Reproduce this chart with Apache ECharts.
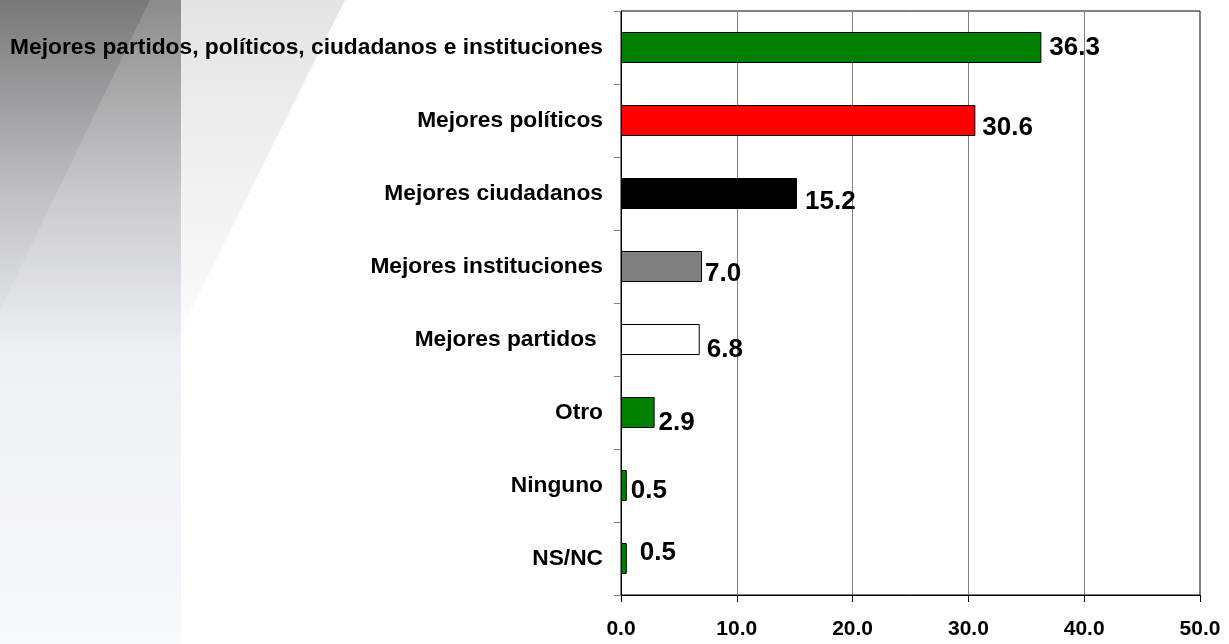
<!DOCTYPE html>
<html>
<head>
<meta charset="utf-8">
<script src="https://cdn.jsdelivr.net/npm/echarts@6/dist/echarts.min.js"></script>
<style>
  html, body { margin: 0; padding: 0; background: #fff; }
  #main { width: 1229px; height: 644px; }
</style>
</head>
<body>
<div id="main"></div>
<script>
// datos
const categorias = [
  'Mejores partidos, políticos, ciudadanos e instituciones',
  'Mejores políticos',
  'Mejores ciudadanos',
  'Mejores instituciones',
  'Mejores partidos ',
  'Otro',
  'Ninguno',
  'NS/NC'
];
const valores = [36.3, 30.6, 15.2, 7.0, 6.8, 2.9, 0.5, 0.5];
const colores = ['#008000', '#ff0000', '#000000', '#808080', '#ffffff', '#008000', '#008000', '#008000'];
// desplazamiento de etiquetas [x, y] tal como aparecen en la imagen
const desplEtiquetas = [[4, 0], [3, 7], [4, 8], [-1, 7], [3, 10], [0, 10], [0, 5], [9, -6]];

const chart = echarts.init(document.getElementById('main'));

const option = {
  backgroundColor: '#ffffff',
  animation: false,
  textStyle: { fontFamily: '"Liberation Sans", Arial, sans-serif' },
  graphic: [
    {
      type: 'polygon', z: -10, silent: true,
      shape: { points: [[181, 0], [345, 0], [181, 330]] },
      style: {
        fill: new echarts.graphic.LinearGradient(0, 0, 0, 1, [
          { offset: 0, color: '#e4e4e4' },
          { offset: 1, color: '#fbfbfb' }
        ])
      }
    },
    {
      type: 'rect', z: -10, silent: true,
      shape: { x: 0, y: 0, width: 181, height: 644 },
      style: {
        fill: new echarts.graphic.LinearGradient(0, 0, 0, 1, [
          { offset: 0, color: '#787878' },
          { offset: 0.3, color: '#c0c0c4' },
          { offset: 0.55, color: '#eceef2' },
          { offset: 1, color: '#f7f8fb' }
        ])
      }
    },
    {
      type: 'polygon', z: -9, silent: true,
      shape: { points: [[150, 0], [181, 0], [181, 644], [0, 644], [0, 310]] },
      style: {
        fill: 'rgba(255,255,255,0.15)'
      }
    }
  ],
  grid: {
    left: 621,
    right: 29,
    top: 11,
    bottom: 49,
    show: true,
    borderColor: '#000',
    borderWidth: 1,
    backgroundColor: '#ffffff'
  },
  xAxis: {
    type: 'value',
    min: 0,
    max: 50,
    interval: 10,
    axisLine: { show: true, lineStyle: { color: '#000', width: 1 } },
    axisTick: { show: true, length: 7, lineStyle: { color: '#000' } },
    splitLine: { show: true, lineStyle: { color: '#808080', width: 1 } },
    axisLabel: {
      margin: 24,
      color: '#000',
      fontSize: 21,
      fontWeight: 'bold',
      formatter: v => v.toFixed(1)
    }
  },
  yAxis: {
    type: 'category',
    inverse: true,
    data: categorias,
    axisLine: { show: true, lineStyle: { color: '#000', width: 1 } },
    axisTick: { show: true, length: 7, lineStyle: { color: '#808080' } },
    axisLabel: {
      margin: 18,
      color: '#000',
      fontSize: 22.75,
      fontWeight: 'bold'
    }
  },
  series: [{
    type: 'bar',
    barWidth: 31,
    data: valores.map((v, i) => ({
      value: v,
      itemStyle: { color: colores[i], borderColor: '#000', borderWidth: 1 },
      label: { offset: desplEtiquetas[i] }
    })),
    label: {
      show: true,
      position: 'right',
      distance: 4,
      color: '#000',
      fontSize: 26,
      fontWeight: 'bold',
      formatter: p => p.value.toFixed(1)
    }
  }]
};

chart.setOption(option);
</script>
</body>
</html>
